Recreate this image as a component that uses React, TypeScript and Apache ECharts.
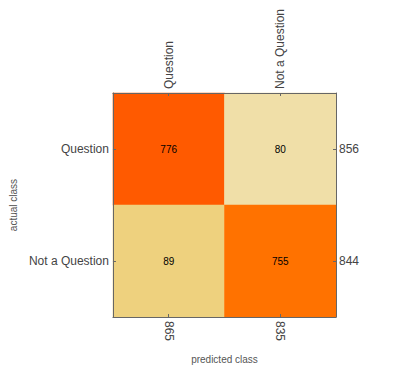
import React, { useEffect, useRef } from "react";
import * as echarts from "echarts";

const classes = ["Question", "Not a Question"];
// rows = actual class, columns = predicted class
const matrix = [
  [776, 80],
  [89, 755],
];
const rowTotals = [856, 844];
const colTotals = [865, 835];
const cellColors = [
  ["#FF5A00", "#F0DFA8"],
  ["#EED17E", "#FF7200"],
];

const FONT = "'Liberation Sans', Arial, sans-serif";

export default function App() {
  const ref = useRef<HTMLDivElement>(null);
  useEffect(() => {
    document.body.style.margin = "0";
    const chart = echarts.init(ref.current!, null, { renderer: "svg" });
    const data: any[] = [];
    const pieces: any[] = [];
    matrix.forEach((row, r) =>
      row.forEach((v, c) => {
        data.push({ value: [c, r, v] });
        pieces.push({ value: v, color: cellColors[r][c] });
      })
    );
    const axisLine = { show: true, lineStyle: { color: "#666", width: 1 } };
    const axisTick = { show: true, inside: true, length: 3, alignWithLabel: true, lineStyle: { color: "#666" } };
    const axisLabel = { color: "#444", fontSize: 12, fontFamily: FONT, margin: 4 };
    chart.setOption({
      animation: false,
      textStyle: { fontFamily: FONT },
      grid: { left: 110, top: 93, width: 226, height: 226, containLabel: false },
      visualMap: { type: "piecewise", show: false, dimension: 2, pieces, seriesIndex: 0 },
      xAxis: [
        {
          type: "category",
          data: classes,
          position: "bottom",
          z: 10,
          axisLine,
          axisTick,
          axisLabel: { ...axisLabel, rotate: -90, formatter: (_v: string, i: number) => String(colTotals[i]) },
          splitLine: { show: false },
          name: "predicted class",
          nameLocation: "middle",
          nameGap: 37,
          nameTextStyle: { color: "#555", fontSize: 10, fontFamily: FONT },
        },
        {
          type: "category",
          data: classes,
          position: "top",
          z: 10,
          axisLine,
          axisTick,
          axisLabel: { ...axisLabel, rotate: -90 },
          splitLine: { show: false },
        },
      ],
      yAxis: [
        {
          type: "category",
          data: classes,
          inverse: true,
          position: "left",
          z: 10,
          axisLine,
          axisTick,
          axisLabel,
          splitLine: { show: false },
          name: "actual class",
          nameLocation: "middle",
          nameRotate: 90,
          nameGap: 94,
          nameTextStyle: { color: "#555", fontSize: 10, fontFamily: FONT },
        },
        {
          type: "category",
          data: classes,
          inverse: true,
          position: "right",
          z: 10,
          axisLine,
          axisTick,
          axisLabel: { ...axisLabel, margin: 3, formatter: (_v: string, i: number) => String(rowTotals[i]) },
          splitLine: { show: false },
        },
      ],
      series: [
        {
          type: "heatmap",
          xAxisIndex: 0,
          yAxisIndex: 0,
          data,
          label: { show: true, color: "#000", fontSize: 10, fontFamily: FONT },
          emphasis: { disabled: true },
        },
      ],
    });
    return () => chart.dispose();
  }, []);
  return <div ref={ref} style={{ width: 413, height: 369 }} />;
}
